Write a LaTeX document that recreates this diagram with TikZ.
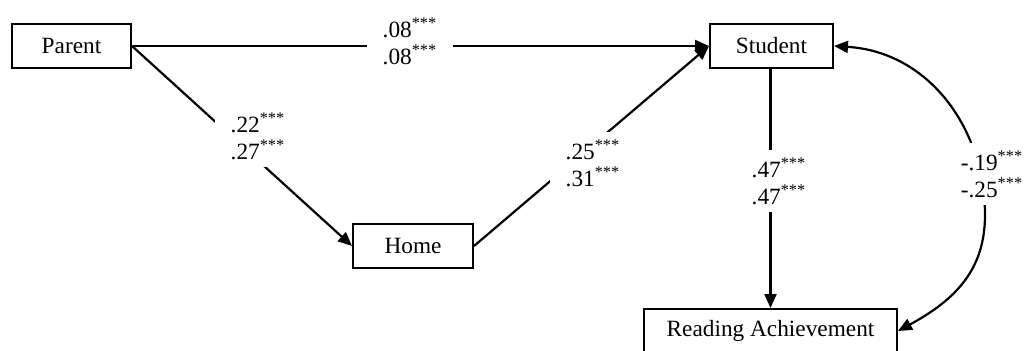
\documentclass[tikz,border=0pt]{standalone}
\usepackage{fontspec}
\setmainfont{Liberation Serif}
\usetikzlibrary{arrows.meta}
\begin{document}
\begin{tikzpicture}[x=0.5pt,y=-0.5pt,
  >={Triangle[length=7pt,width=6pt]},
  txt/.style={font=\fontsize{11.65}{13.5}\selectfont},
  box/.style={txt,draw,line width=1pt,minimum height=22pt,inner sep=0pt},
  lbl/.style={txt,fill=white,align=center,inner xsep=8pt,inner ysep=4pt},
  conn/.style={line width=1.1pt,->},
]
\useasboundingbox (0,0) rectangle (1030,350);
\node[box,minimum width=59.5pt] (parent) at (71.5,46) {Parent};
\node[box,minimum width=60pt] (home) at (413,246) {Home};
\node[box,minimum width=61.5pt] (student) at (771.5,46) {Student};
\node[box,minimum width=126.5pt] (ra) at (770.5,331) {Reading Achievement};

\draw[conn] (parent.east) -- (student.west);
\draw[conn] (parent.east) -- (home.west);
\draw[conn] (home.east) -- (student.west);
\draw[conn] (student.south -| ra.north) -- (ra.north);
\draw[line width=1.1pt,<->] (student.east) .. controls (930,52) and (985,130) .. (985,215)
   .. controls (985,270) and (955,300) .. (ra.east);

\node[lbl] (l1) at (410,41) {.08\textsuperscript{***}\\.08\textsuperscript{***}};
\node[lbl] (l2) at (258,136) {.22\textsuperscript{***}\\.27\textsuperscript{***}};
\node[lbl] (l3) at (593,163) {.25\textsuperscript{***}\\.31\textsuperscript{***}};
\node[lbl] (l4) at (779,181) {.47\textsuperscript{***}\\.47\textsuperscript{***}};
\node[lbl] (l5) at (992,174) {-.19\textsuperscript{***}\\-.25\textsuperscript{***}};
\end{tikzpicture}
\end{document}
